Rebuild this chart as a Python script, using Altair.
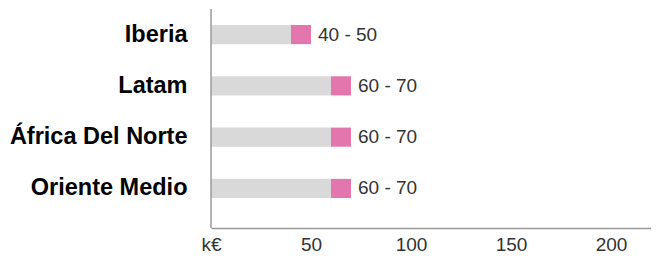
import altair as alt
import pandas as pd

regions = ["Iberia", "Latam", "África Del Norte", "Oriente Medio"]
low_vals = [40, 60, 60, 60]
high_vals = [50, 70, 70, 70]
tick_values = [0, 50, 100, 150, 200]
tick_labels = ["k€", "50", "100", "150", "200"]

df = pd.DataFrame({
    "region": regions,
    "zero": [0] * len(regions),
    "low": low_vals,
    "high": high_vals,
})
df["label"] = [f"{a} - {b}" for a, b in zip(low_vals, high_vals)]

FONT = "Liberation Sans"
W, H = 440, 219

label_expr = "[" + ",".join(f"'{t}'" for t in tick_labels) + "][indexof([" + ",".join(
    str(v) for v in tick_values) + "], datum.value)]"

x_scale = alt.Scale(domain=[0, 220], nice=False, zero=True)
y_scale = alt.Scale(domain=regions, range=[16, 189], paddingInner=0.627, paddingOuter=0)

y_enc = alt.Y("region:N", scale=y_scale, sort=regions,
              axis=alt.Axis(title=None, domain=False, ticks=False, labelFont=FONT,
                            labelFontSize=23.5, labelFontWeight="bold", labelColor="#000000",
                            labelPadding=24, labelLimit=300))

x_axis = alt.Axis(title=None, values=tick_values, labelExpr=label_expr, grid=False,
                  ticks=False, domainColor="#9a9a9a", domainWidth=1.5, labelFont=FONT,
                  labelFontSize=19, labelColor="#333333", labelPadding=7,
                  labelFlush=False, labelOverlap=False)

base = alt.Chart(df)

gray = base.mark_bar(color="#d9d9d9", cornerRadius=0).encode(
    x=alt.X("zero:Q", scale=x_scale, axis=x_axis),
    x2="low:Q",
    y=y_enc,
)
pink = base.mark_bar(color="#e377ad").encode(
    x=alt.X("low:Q", scale=x_scale),
    x2="high:Q",
    y=y_enc,
)
text = base.mark_text(align="left", baseline="middle", dx=7, font=FONT,
                      fontSize=19, color="#333333").encode(
    x=alt.X("high:Q", scale=x_scale),
    y=y_enc,
    text="label:N",
)
vline = alt.Chart(pd.DataFrame({"v": [0]})).mark_rule(color="#9a9a9a", strokeWidth=1.5).encode(
    x=alt.X("v:Q", scale=x_scale),
)

chart = alt.layer(gray, pink, text, vline).properties(
    width=W, height=H,
    autosize=alt.AutoSizeParams(type="none"),
    padding={"left": 203, "top": 1, "right": 0, "bottom": 26},
).configure_view(stroke=None)

chart.save("out.html", embed_options={"renderer": "svg", "actions": False})
